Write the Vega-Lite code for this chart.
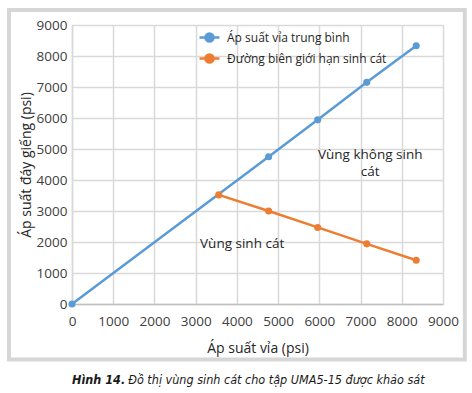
{
  "$schema": "https://vega.github.io/schema/vega-lite/v6.json",
  "width": 371,
  "height": 279,
  "autosize": {"type": "none"},
  "padding": {"left": 72, "top": 25, "right": 29, "bottom": 89},
  "background": "white",
  "config": {
    "font": "Open Sans",
    "view": {"stroke": null}
  },
  "datasets": {
    "series": [
      {"series": "Áp suất vỉa trung bình", "pr": 0, "pwf": 0},
      {"series": "Áp suất vỉa trung bình", "pr": 4770, "pwf": 4750},
      {"series": "Áp suất vỉa trung bình", "pr": 5960, "pwf": 5940},
      {"series": "Áp suất vỉa trung bình", "pr": 7150, "pwf": 7150},
      {"series": "Áp suất vỉa trung bình", "pr": 8350, "pwf": 8330},
      {"series": "Đường biên giới hạn sinh cát", "pr": 3560, "pwf": 3520},
      {"series": "Đường biên giới hạn sinh cát", "pr": 4770, "pwf": 3000},
      {"series": "Đường biên giới hạn sinh cát", "pr": 5960, "pwf": 2470},
      {"series": "Đường biên giới hạn sinh cát", "pr": 7150, "pwf": 1940},
      {"series": "Đường biên giới hạn sinh cát", "pr": 8350, "pwf": 1410}
    ],
    "notes": [
      {"label": ["Vùng  không sinh", "cát"], "pr": 7235, "pwf": 4810},
      {"label": ["Vùng  sinh cát"], "pr": 4127, "pwf": 1943}
    ]
  },
  "encoding": {
    "x": {"field": "pr", "type": "quantitative", "scale": {"domain": [0, 9000], "nice": false},
      "axis": {"title": "Áp suất vỉa (psi)", "values": [0,1000,2000,3000,4000,5000,6000,7000,8000,9000], "format": "d", "grid": true, "gridColor": "#d9d9d9", "gridWidth": 1.5, "domainColor": "#bfbfbf", "domainWidth": 1.5, "ticks": false, "labelFlush": false, "labelOverlap": false, "labelFont": "Open Sans", "labelColor": "#404040", "labelFontSize": 13.5, "labelPadding": 10, "titleFont": "Open Sans", "titleFontWeight": "normal", "titleColor": "#262626", "titleFontSize": 14, "titlePadding": 14}},
    "y": {"field": "pwf", "type": "quantitative", "scale": {"domain": [0, 9000], "nice": false},
      "axis": {"title": "Áp suất đáy giếng (psi)", "values": [0,1000,2000,3000,4000,5000,6000,7000,8000,9000], "format": "d", "grid": true, "gridColor": "#d9d9d9", "gridWidth": 1.5, "domainColor": "#d9d9d9", "domainWidth": 1.5, "ticks": false, "labelFlush": false, "labelOverlap": false, "labelFont": "Open Sans", "labelColor": "#404040", "labelFontSize": 13.5, "labelPadding": 5, "titleFont": "Open Sans", "titleFontWeight": "normal", "titleColor": "#262626", "titleFontSize": 14, "titlePadding": 3}}
  },
  "layer": [
    {
      "data": {"name": "series"},
      "mark": {"type": "line", "strokeWidth": 2.5, "point": {"filled": true, "size": 50}},
      "encoding": {
        "color": {"field": "series", "type": "nominal", "scale": {"domain": ["Áp suất vỉa trung bình", "Đường biên giới hạn sinh cát"], "range": ["#5b9bd5", "#ed7d31"]},
          "legend": {"title": null, "orient": "none", "legendX": 126, "legendY": 1, "labelFontSize": 12, "labelColor": "#262626", "labelFont": "Open Sans", "symbolType": "M-1,0H1M-0.4,0A0.4,0.4 0 1,0 0.4,0A0.4,0.4 0 1,0 -0.4,0Z", "symbolSize": 400, "symbolStrokeWidth": 2.5, "rowPadding": 0, "labelOffset": 6}}
      }
    },
    {
      "data": {"name": "notes"},
      "mark": {"type": "text", "fontSize": 13.5, "color": "#262626", "align": "center", "baseline": "middle", "lineHeight": 17},
      "encoding": {
        "text": {"field": "label"}
      }
    },
    {
      "data": {"values": [{"pr": -1529, "pr2": 9529, "pwf": 9481, "pwf2": -1794}]},
      "mark": {"type": "rect", "filled": false, "stroke": "#d6d6d6", "strokeWidth": 4},
      "encoding": {
        "x2": {"field": "pr2"},
        "y2": {"field": "pwf2"}
      }
    },
    {
      "data": {"values": [{"pr": 1290, "pwf": -2439}]},
      "mark": {"type": "text", "text": "Hình 14.", "font": "DejaVu Sans Condensed, Liberation Sans", "fontStyle": "italic", "fontWeight": "bold", "fontSize": 12.5, "align": "right", "baseline": "middle", "color": "#1a1a1a"}
    },
    {
      "data": {"values": [{"pr": 1290, "pwf": -2439}]},
      "mark": {"type": "text", "text": "Đồ thị vùng sinh cát cho tập UMA5-15 được khảo sát", "font": "DejaVu Sans Condensed, Liberation Sans", "fontStyle": "italic", "fontSize": 12.5, "align": "left", "baseline": "middle", "dx": 3, "color": "#1a1a1a"}
    }
  ]
}
